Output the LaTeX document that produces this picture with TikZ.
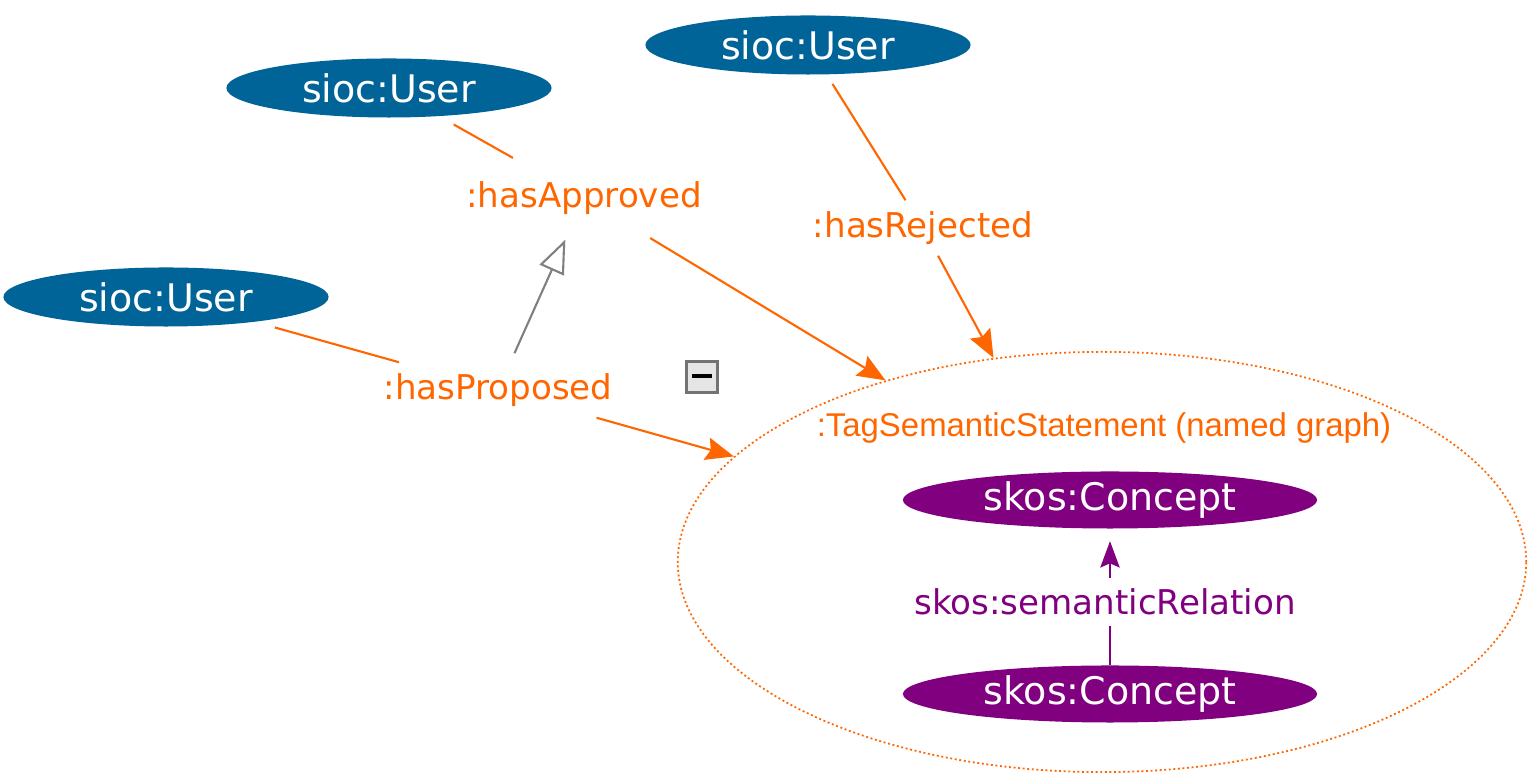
\documentclass[tikz,border=0pt]{standalone}
\usepackage{fontspec}
\setmainfont{DejaVu Sans}
\newfontfamily\graphfont{Liberation Sans}
\usetikzlibrary{shapes.geometric,arrows.meta}
\definecolor{siocblue}{RGB}{0,100,152}
\definecolor{relorange}{RGB}{255,102,0}
\definecolor{skospurple}{RGB}{128,0,128}
\definecolor{subgray}{RGB}{128,128,128}
\begin{document}
\begin{tikzpicture}[x=0.01cm, y=-0.01cm,
	user/.style={ellipse, fill=siocblue, text=white, minimum width=3.25cm, minimum height=0.59cm, inner sep=0pt, outer sep=2.8pt, font=\fontsize{10.8}{13}\selectfont},
	concept/.style={ellipse, fill=skospurple, text=white, minimum width=4.14cm, minimum height=0.57cm, inner sep=0pt, font=\fontsize{10.8}{13}\selectfont},
	rel/.style={inner sep=3pt, font=\fontsize{9.7}{12}\selectfont},
	reledge/.style={draw=relorange, line width=0.6pt},
	relarrow/.style={reledge, -{Stealth[length=8pt, width=6.5pt, inset=1.2pt]}},
	subarrow/.style={draw=subgray, line width=0.6pt, -{Triangle[open, length=9.5pt, width=7.5pt]}},
	skosedge/.style={draw=skospurple, line width=0.6pt}]
	\useasboundingbox (0,0) rectangle (1529,777);
	% named graph
	\node[ellipse, draw=relorange, line width=0.5pt, dash pattern=on 0.55pt off 0.75pt, minimum width=8.48cm, minimum height=4.2cm, inner sep=0pt] (graph) at (1102,562) {};
	\node[text=relorange, inner sep=0pt, font=\graphfont\fontsize{9.36}{11}\selectfont] (graphname) at (1104,428) {:TagSemanticStatement (named graph)};
	% users
	\node[user] (approver) at (389,88) {sioc:User};
	\node[user] (rejecter) at (808,45) {sioc:User};
	\node[user] (proposer) at (166,297) {sioc:User};
	% concepts
	\node[concept] (broader) at (1110,500) {skos:Concept};
	\node[concept] (narrower) at (1110,694) {skos:Concept};
	% properties
	\node[rel, text=relorange, inner sep=6.5pt] (approved) at (584,198) {:hasApproved};
	\node[rel, text=relorange] (rejected) at (923,228) {:hasRejected};
	\node[rel, text=relorange] (proposed) at (498,390) {:hasProposed};
	\node[rel, text=skospurple] (semrel) at (1105,602) {skos:semanticRelation};
	% collapse button
	\node[draw=black!55, line width=0.8pt, fill=black!10, minimum size=0.31cm, inner sep=0pt] (collapse) at (702,377) {};
	\fill[black] ([xshift=-2.8pt, yshift=-0.4pt]collapse.center) rectangle ([xshift=2.8pt, yshift=0.9pt]collapse.center);
	% edges
	\draw[reledge] (approver) -- (approved);
	\draw[relarrow] (approved) -- (graph.140.7);
	\draw[reledge] (rejecter) -- (rejected);
	\draw[relarrow] (rejected) -- (graph.118.8);
	\draw[reledge] (proposer) -- (proposed);
	\draw[relarrow] (proposed) -- (graph.164.2);
	\draw[subarrow, shorten <=2.8pt, shorten >=0.5pt] (proposed) -- (approved);
	\draw[skosedge] (narrower.north) -- (narrower |- semrel.south);
	\draw[skosedge, -{Stealth[length=7.5pt, width=5.5pt, inset=1.2pt]}, shorten >=3.4pt] (narrower |- semrel.north) -- (broader.south);
\end{tikzpicture}
\end{document}
